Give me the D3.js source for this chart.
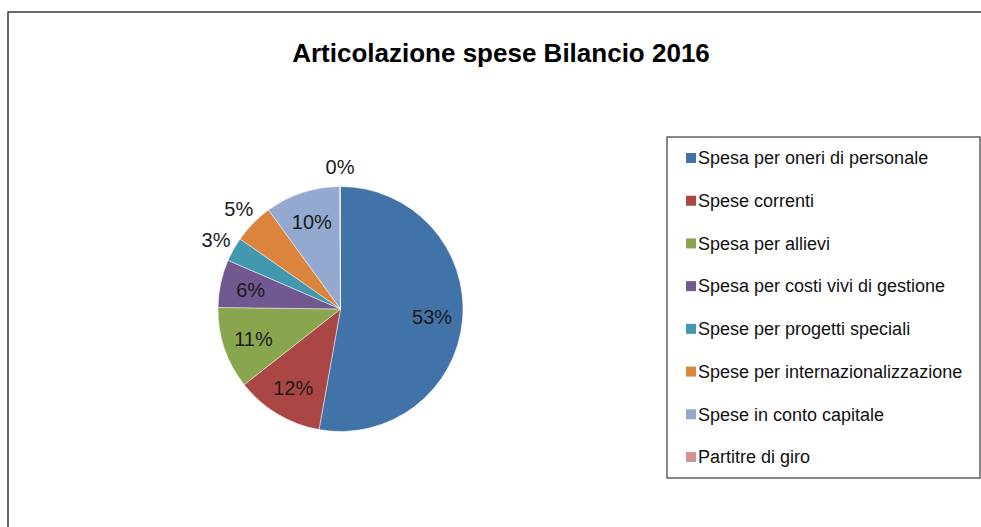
<!DOCTYPE html>
<html>
<head>
<meta charset="utf-8">
<script src="https://cdnjs.cloudflare.com/ajax/libs/d3/7.8.5/d3.min.js"></script>
<style>
	body { margin: 0; background: #fff; }
	text { font-family: "Liberation Sans", Arial, sans-serif; }
</style>
</head>
<body>
<svg width="981" height="527"></svg>
<script>

//data
var categories = [
	"Spesa per oneri di personale",
	"Spese correnti",
	"Spesa per allievi",
	"Spesa per costi vivi di gestione",
	"Spese per progetti speciali",
	"Spese per internazionalizzazione",
	"Spese in conto capitale",
	"Partitre di giro"
];
var values = [52.8, 11.6, 10.8, 6.3, 3.2, 5.3, 9.9, 0.1];
var colors = ["#4273A8", "#AA4643", "#89A54E", "#71588F", "#4198AF", "#DB843D", "#93A9CF", "#D19392"];
var title = "Articolazione spese Bilancio 2016";

var svg = d3.select("svg"),
	width = +svg.attr("width"),
	height = +svg.attr("height");

// chart frame
svg.append("rect")
	.attr("x", 8)
	.attr("y", 12)
	.attr("width", 1000)
	.attr("height", 540)
	.attr("fill", "#fff")
	.attr("stroke", "#3a3a3a")
	.attr("stroke-width", 1.5);

svg.append("text")
	.attr("x", 501)
	.attr("y", 62)
	.attr("text-anchor", "middle")
	.attr("font-size", 26)
	.attr("font-weight", "bold")
	.attr("fill", "#000")
	.text(title);

//pie
var cx = 340.5, cy = 309, radius = 122.5;
var total = d3.sum(values);
var pct = d3.format(".0%");

var color = d3.scaleOrdinal().domain(categories).range(colors);

var pie = d3.pie()
	.sort(null)
	.value(function(d) { return d.value; });

var data = categories.map(function(c, i) { return { name: c, value: values[i] }; });
var arcs = pie(data);

var arc = d3.arc().innerRadius(0).outerRadius(radius);
var arcIn = d3.arc().innerRadius(radius * 0.75).outerRadius(radius * 0.75);
var arcOut = d3.arc().innerRadius(radius + 20).outerRadius(radius + 20);

var g = svg.append("g")
	.attr("transform", "translate(" + cx + "," + cy + ")");

g.selectAll("path")
	.data(arcs)
	.enter().append("path")
	.attr("d", arc)
	.attr("fill", function(d) { return color(d.data.name); })
	.attr("stroke", "#fff")
	.attr("stroke-opacity", 0.6)
	.attr("stroke-width", 0.8);

// small slices get their label outside
function isSmall(d) { return d.data.value / total < 0.055; }

g.selectAll(".lbl")
	.data(arcs)
	.enter().append("text")
	.attr("class", "lbl")
	.attr("transform", function(d) {
		var p = isSmall(d) ? arcOut.centroid(d) : arcIn.centroid(d);
		return "translate(" + p[0] + "," + p[1] + ")";
	})
	.attr("dy", "0.36em")
	.attr("text-anchor", "middle")
	.attr("font-size", 20)
	.attr("fill", "#1a1a1a")
	.text(function(d) { return pct(d.data.value / total); });

//legend
var lx = 667, ly = 137, lw = 313, lh = 341;

svg.append("rect")
	.attr("x", lx)
	.attr("y", ly)
	.attr("width", lw)
	.attr("height", lh)
	.attr("fill", "#fff")
	.attr("stroke", "#3a3a3a")
	.attr("stroke-width", 1.2);

var ly_scale = d3.scalePoint()
	.domain(categories)
	.range([158, 457]);

var item = svg.selectAll(".leg")
	.data(categories)
	.enter().append("g")
	.attr("class", "leg")
	.attr("transform", function(d) { return "translate(0," + ly_scale(d) + ")"; });

item.append("rect")
	.attr("x", 686)
	.attr("y", -5)
	.attr("width", 10)
	.attr("height", 10)
	.attr("fill", function(d) { return color(d); });

item.append("text")
	.attr("x", 698)
	.attr("dy", "0.35em")
	.attr("font-size", 18)
	.attr("fill", "#111")
	.text(function(d) { return d; });

</script>
</body>
</html>
